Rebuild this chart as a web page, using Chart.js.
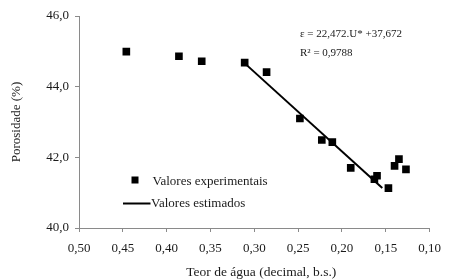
<!DOCTYPE html>
<html>
<head>
<meta charset="utf-8">
<script src="https://cdn.jsdelivr.net/npm/chart.js@4"></script>
<style>
html,body{margin:0;padding:0;background:#fff;}
#wrap{width:450px;height:279px;}
</style>
</head>
<body>
<div id="wrap"><canvas id="c" width="450" height="279"></canvas></div>
<script>
// Data
const moisture = [0.446, 0.386, 0.360, 0.311, 0.286, 0.248, 0.223, 0.211, 0.190, 0.163, 0.160, 0.147, 0.140, 0.135, 0.127];
const porosity = [44.99, 44.86, 44.72, 44.68, 44.41, 43.10, 42.49, 42.43, 41.70, 41.38, 41.48, 41.13, 41.76, 41.95, 41.66];
const fitMoisture = [0.314, 0.154];
const fitPorosity = [44.73, 41.13];
const xTicks = [0.50, 0.45, 0.40, 0.35, 0.30, 0.25, 0.20, 0.15, 0.10];
const yTicks = [40, 42, 44, 46];
const equationLines = ['\u03b5 = 22,472.U* +37,672', 'R\u00b2 = 0,9788'];
const seriesNames = ['Valores experimentais', 'Valores estimados'];
const xTitle = 'Teor de água (decimal, b.s.)';
const yTitle = 'Porosidade (%)';

const FONT = "'Liberation Serif', 'Times New Roman', serif";
const TXT = '#1a1a1a';
const AX = '#8a8a8a';

const expPts = moisture.map((x, i) => ({x, y: porosity[i]}));
const fitPts = fitMoisture.map((x, i) => ({x, y: fitPorosity[i]}));

const annotationPlugin = {
  id: 'annot',
  afterDraw(chart) {
    const ctx = chart.ctx;
    const xs = chart.scales.x;
    ctx.save();
    ctx.fillStyle = TXT;
    ctx.textBaseline = 'middle';

    // x axis title (slightly right of centre, as in the reference)
    ctx.font = '13.5px ' + FONT;
    ctx.textAlign = 'center';
    ctx.fillText(xTitle, (xs.left + xs.right) / 2 + 7, 272);

    // regression equation
    ctx.textAlign = 'left';
    ctx.font = '11px ' + FONT;
    ctx.fillText(equationLines[0], 300, 34);
    ctx.fillText(equationLines[1], 300, 53.5);

    // legend
    const ds = chart.data.datasets;
    ctx.font = '13px ' + FONT;
    ctx.fillStyle = ds[0].backgroundColor;
    ctx.fillRect(131.5, 176.5, 7, 7);
    ctx.fillStyle = TXT;
    ctx.fillText(ds[0].label, 152.5, 181.5);
    ctx.strokeStyle = ds[1].borderColor;
    ctx.lineWidth = 2;
    ctx.beginPath();
    ctx.moveTo(123, 203.5);
    ctx.lineTo(150.5, 203.5);
    ctx.stroke();
    ctx.fillText(ds[1].label, 151, 203.5);
    ctx.restore();
  }
};

new Chart(document.getElementById('c'), {
  type: 'scatter',
  data: {
    datasets: [
      {
        label: seriesNames[0],
        data: expPts,
        pointStyle: 'rect',
        pointRadius: 5.4,
        pointHoverRadius: 5.4,
        backgroundColor: '#000',
        borderColor: '#000',
        borderWidth: 0,
        order: 2
      },
      {
        label: seriesNames[1],
        type: 'line',
        data: fitPts,
        showLine: true,
        borderColor: '#000',
        backgroundColor: '#000',
        borderWidth: 2,
        pointRadius: 0,
        fill: false,
        order: 1
      }
    ]
  },
  options: {
    responsive: false,
    animation: false,
    devicePixelRatio: 1,
    layout: {padding: {left: 0, right: 13, top: 16, bottom: 0}},
    plugins: {
      legend: {display: false},
      tooltip: {enabled: false}
    },
    scales: {
      x: {
        type: 'linear',
        reverse: true,
        min: 0.10,
        max: 0.50,
        afterBuildTicks(scale) { scale.ticks = xTicks.map(v => ({value: v})); },
        afterFit(scale) { scale.height = 51; },
        ticks: {
          color: TXT,
          font: {family: FONT, size: 13},
          padding: 9,
          maxRotation: 0,
          autoSkip: false,
          callback: v => v.toFixed(2).replace('.', ',')
        },
        grid: {drawOnChartArea: false, drawTicks: true, tickLength: 4, color: AX},
        border: {display: true, color: AX, width: 1},
        title: {display: false, text: xTitle}
      },
      y: {
        type: 'linear',
        min: 40,
        max: 46,
        afterBuildTicks(scale) { scale.ticks = yTicks.map(v => ({value: v})); },
        afterFit(scale) { scale.width = 79; },
        ticks: {
          color: TXT,
          font: {family: FONT, size: 13},
          padding: 6,
          autoSkip: false,
          callback: v => v.toFixed(1).replace('.', ',')
        },
        grid: {drawOnChartArea: false, drawTicks: true, tickLength: 4, color: AX},
        border: {display: true, color: AX, width: 1},
        title: {
          display: true,
          text: yTitle,
          color: TXT,
          font: {family: FONT, size: 13},
          padding: {top: 9, bottom: 0}
        }
      }
    }
  },
  plugins: [annotationPlugin]
});
</script>
</body>
</html>
